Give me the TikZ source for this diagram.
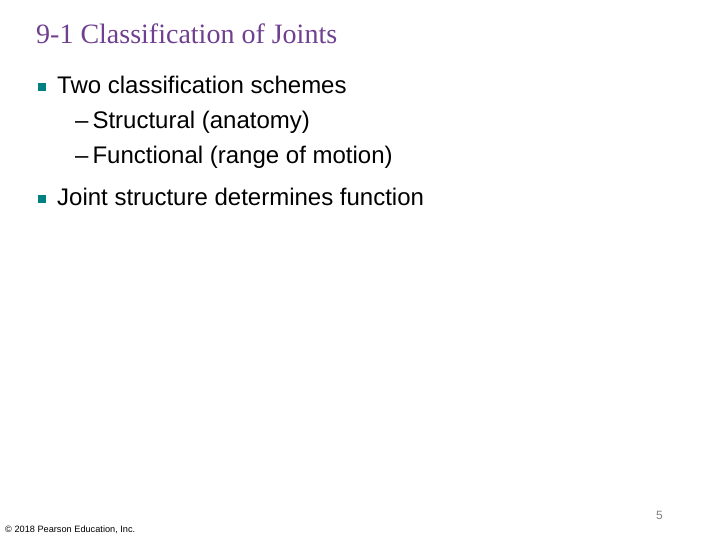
\documentclass[tikz,border=0pt]{standalone}
\usepackage{fontspec}
\setmainfont{Liberation Sans}
\newfontfamily\serifT{Liberation Serif}
\definecolor{ttl}{RGB}{112,64,144}
\definecolor{teal}{RGB}{0,128,128}
\begin{document}
\begin{tikzpicture}[x=1pt,y=-1pt,
  txt/.style={anchor=base west,inner sep=0pt,font=\fontsize{24}{28}\selectfont},
  bul/.style={fill=teal,minimum size=8pt,inner sep=0pt}]
\useasboundingbox (0,0) rectangle (720,540);
\node[anchor=base west,inner sep=0pt,text=ttl,font=\serifT\fontsize{28}{32}\selectfont] (title) at (36,44) {9-1 Classification of Joints};
\node[bul] (b1) at (42,87) {};
\node[txt] (t1) at (57,94) {Two classification schemes};
\node[txt] (s1) at (75,129) {–\hspace{4pt}Structural (anatomy)};
\node[txt] (s2) at (75,164) {–\hspace{4pt}Functional (range of motion)};
\node[bul] (b2) at (42,199) {};
\node[txt] (t2) at (57,206) {Joint structure determines function};
\node[anchor=base west,inner sep=0pt,font=\fontsize{9.2}{10}\selectfont] (foot) at (5,532) {© 2018 Pearson Education, Inc.};
\node[anchor=base west,inner sep=0pt,text=gray,font=\fontsize{12}{14}\selectfont] (pg) at (656,519) {5};
\end{tikzpicture}
\end{document}
